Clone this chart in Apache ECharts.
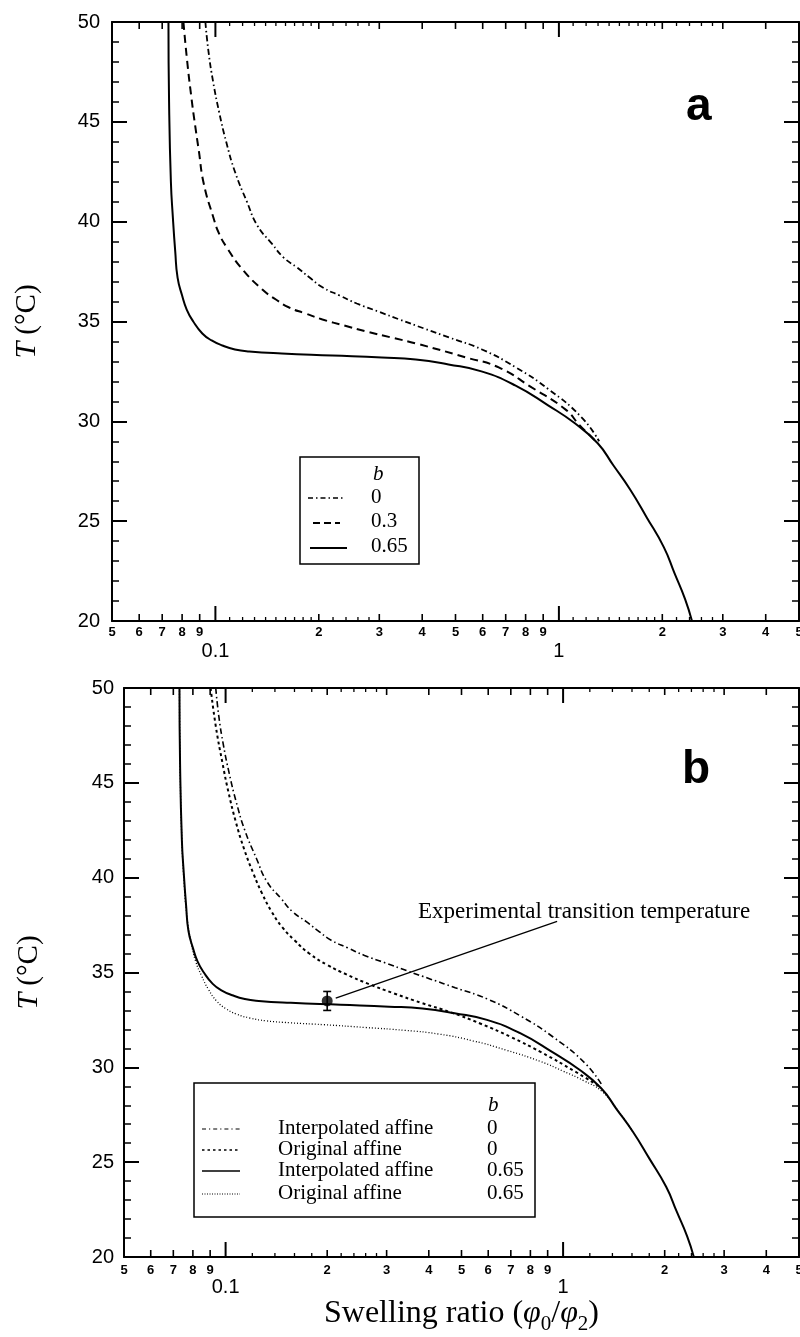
<!DOCTYPE html>
<html><head><meta charset="utf-8">
<script src="https://cdn.jsdelivr.net/npm/echarts@6.0.0/dist/echarts.min.js"></script>
<style>html,body{margin:0;padding:0;background:#fff}#c{width:800px;height:1337px}</style>
</head><body><div id="c"></div>
<script>
// ---------- data ----------
// Panel a
const aT_b0   = [50, 48.5, 47, 45.5, 44, 42.5, 41, 39.8, 38.9, 38.2, 37.7, 37.2, 36.7, 36.3, 35.9, 35.5, 35.1, 34.65, 34.2, 33.6, 32.7, 31.6, 30.2, 29.0];
const aX_b0   = [0.0935, 0.0955, 0.0985, 0.1025, 0.1075, 0.114, 0.1235, 0.1325, 0.146, 0.158, 0.173, 0.188, 0.2055, 0.230, 0.258, 0.298, 0.3435, 0.405, 0.479, 0.597, 0.749, 0.934, 1.164, 1.31];
const aT_b03  = [50, 48, 46.1, 45, 43.6, 41.9, 40.2, 39.4, 38.7, 37.6, 36.6, 36.1, 35.7, 35.4, 35.1, 34.8, 34.5, 34.2, 33.9, 33.2, 32.7, 31.7, 30.6, 29.8, 28.9];
const aX_b03  = [0.0807, 0.0828, 0.0853, 0.0870, 0.0894, 0.0925, 0.0987, 0.1025, 0.108, 0.120, 0.137, 0.150, 0.164, 0.183, 0.205, 0.237, 0.275, 0.325, 0.384, 0.536, 0.668, 0.833, 1.044, 1.15, 1.30];
const aT_b065 = [50, 46, 42, 40.2, 38.5, 37.2, 36.3, 35.6, 35.0, 34.4, 34.05, 33.8, 33.6, 33.5, 33.4, 33.3, 33.2, 33.1, 32.85, 32.5, 31.8, 30.8, 29.9, 28.9, 27.8, 26.6, 25.2, 23.7, 22.4, 21.1, 20];
const aX_b065 = [0.0730, 0.0733, 0.0742, 0.0752, 0.0764, 0.0776, 0.0800, 0.0825, 0.0862, 0.0916, 0.0975, 0.1047, 0.114, 0.1254, 0.156, 0.219, 0.305, 0.383, 0.477, 0.595, 0.746, 0.930, 1.113, 1.297, 1.44, 1.61, 1.80, 2.02, 2.17, 2.33, 2.44];
// Panel b
const bT_int0   = aT_b0.slice();
const bX_int0   = aX_b0.slice();
const bT_orig0  = [50, 48, 46, 44.5, 43, 41.5, 40.2, 39.2, 38.2, 37.4, 36.7, 36.0, 35.4, 34.9, 34.4, 33.9, 33.4, 32.9, 32.3, 31.6, 30.8, 29.8, 29.0];
const bX_orig0  = [0.0903, 0.0935, 0.098, 0.102, 0.107, 0.1135, 0.121, 0.128, 0.137, 0.147, 0.160, 0.177, 0.200, 0.228, 0.265, 0.315, 0.380, 0.465, 0.570, 0.700, 0.860, 1.080, 1.28];
const bT_int065 = aT_b065.slice();
const bX_int065 = aX_b065.slice();
const bT_orig065 = [50, 46, 42, 39.5, 37.8, 36.6, 35.6, 34.8, 34.1, 33.5, 33.1, 32.8, 32.6, 32.45, 32.35, 32.25, 32.1, 31.95, 31.75, 31.4, 30.9, 30.3, 29.8, 29.3, 28.75, 27.75, 26.6];
const bX_orig065 = [0.0730, 0.0733, 0.0742, 0.0755, 0.0770, 0.0790, 0.0815, 0.0850, 0.0890, 0.0940, 0.1000, 0.108, 0.118, 0.132, 0.155, 0.195, 0.260, 0.340, 0.430, 0.540, 0.680, 0.860, 1.00, 1.15, 1.30, 1.45, 1.61];
// experimental point
const expX = [0.2], expT = [33.5], expLow = [33.0], expHigh = [34.0];
// axis ticks
const yTickLabels = ['20', '25', '30', '35', '40', '45', '50'];
const xMajor = [0.1, 1];
const xMajorLabels = ['0.1', '1'];
const xLabeled = [0.05, 0.06, 0.07, 0.08, 0.09, 0.2, 0.3, 0.4, 0.5, 0.6, 0.7, 0.8, 0.9, 2, 3, 4, 5];
const xLabeledText = ['5', '6', '7', '8', '9', '2', '3', '4', '5', '6', '7', '8', '9', '2', '3', '4', '5'];
const xMinorA = [0.11, 0.12, 0.13, 0.14, 0.15, 0.16, 0.17, 0.18, 0.19, 0.22, 0.24, 0.26, 0.28, 1.1, 1.2, 1.3, 1.4, 1.5, 1.6, 1.7, 1.8, 1.9, 2.2, 2.4, 2.6, 2.8];
const xMinorB = [0.12, 0.14, 0.16, 0.18, 0.22, 0.24, 0.26, 0.28, 1.2, 1.4, 1.6, 1.8, 2.2, 2.4, 2.6, 2.8];

// ---------- build ----------
const zip = (xs, ts) => xs.map((x, i) => [x, ts[i]]);
const SERIF = 'Liberation Serif';
const SANS = 'Liberation Sans';

function tickList(minor) {
  const l = [];
  xMajor.forEach((v, i) => l.push({v, len: 15, w: 2, big: xMajorLabels[i]}));
  xLabeled.forEach((v, i) => l.push({v, len: 7, w: 1.6, small: xLabeledText[i]}));
  minor.forEach(v => l.push({v, len: 4, w: 1.3}));
  return l;
}
function tickSeries(g, ticks, dySmall, dyBig) {
  return {
    type: 'custom', xAxisIndex: g * 2, yAxisIndex: g * 2, silent: true, clip: false, z: 5,
    data: ticks.map(t => [t.v, 20]),
    renderItem(params, api) {
      const t = ticks[params.dataIndex];
      const pb = api.coord([t.v, 20]);
      const pt = api.coord([t.v, 50]);
      const ch = [
        {type: 'line', shape: {x1: pb[0], y1: pb[1], x2: pb[0], y2: pb[1] - t.len}, style: {stroke: '#000', lineWidth: t.w}},
        {type: 'line', shape: {x1: pt[0], y1: pt[1], x2: pt[0], y2: pt[1] + t.len}, style: {stroke: '#000', lineWidth: t.w}}
      ];
      if (t.small) ch.push({type: 'text', style: {text: t.small, x: pb[0], y: pb[1] + dySmall, align: 'center', verticalAlign: 'middle', fontSize: 13, fontWeight: 'bold', fontFamily: SANS, fill: '#000'}});
      if (t.big) ch.push({type: 'text', style: {text: t.big, x: pb[0], y: pb[1] + dyBig, align: 'center', verticalAlign: 'middle', fontSize: 20, fontFamily: SANS, fill: '#000'}});
      return {type: 'group', children: ch};
    }
  };
}

function xAx(g, pos) {
  return {type: 'log', logBase: 10, gridIndex: g, position: pos, min: 0.05, max: 5,
    axisLine: {show: true, onZero: false, lineStyle: {color: '#000', width: 2}},
    axisTick: {show: false}, axisLabel: {show: false}, splitLine: {show: false}, minorTick: {show: false}};
}
function yAx(g, pos, margin, withName) {
  const o = {type: 'value', gridIndex: g, position: pos, min: 20, max: 50, interval: 5,
    axisLine: {show: true, onZero: false, lineStyle: {color: '#000', width: 2}},
    axisTick: {show: true, inside: true, length: 15, lineStyle: {color: '#000', width: 2}},
    minorTick: {show: true, splitNumber: 5, length: 7, lineStyle: {color: '#000', width: 1.5}},
    axisLabel: {show: pos === 'left', color: '#000', fontSize: 20, fontFamily: SANS, margin: margin,
      formatter: v => yTickLabels[(v - 20) / 5]},
    splitLine: {show: false}, minorSplitLine: {show: false}};
  if (withName) {
    o.name = '{i|T} (°C)';
    o.nameLocation = 'middle';
    o.nameRotate = 90;
    o.nameGap = withName;
    o.nameTextStyle = {color: '#000', fontFamily: SERIF, fontSize: 29,
      rich: {i: {fontStyle: 'italic', fontFamily: SERIF, fontSize: 30, color: '#000'}}};
  }
  return o;
}

const lineS = (g, data, type, width) => ({type: 'line', xAxisIndex: g * 2, yAxisIndex: g * 2, data, showSymbol: false, symbol: 'none',
  smooth: 0.5, lineStyle: {color: '#000', width: width || 2, type}, z: 3, silent: true});

const chart = echarts.init(document.getElementById('c'), null, {renderer: 'canvas'});
const option = {
  backgroundColor: '#fff',
  animation: false,
  grid: [
    {left: 112, top: 22, width: 687, height: 599, outerBoundsMode: 'none'},
    {left: 124, top: 688, width: 675, height: 569, outerBoundsMode: 'none'}
  ],
  xAxis: [
    xAx(0, 'bottom'),
    xAx(0, 'top'),
    Object.assign(xAx(1, 'bottom'), {
      name: '{n|Swelling ratio (}{p|φ}{s|0}{n|/}{p|φ}{s|2}{n|)}',
      nameLocation: 'middle', nameGap: 36,
      nameTextStyle: {color: '#000', rich: {
        n: {fontFamily: SERIF, fontSize: 32, color: '#000', lineHeight: 42, verticalAlign: 'middle'},
        p: {fontFamily: SERIF, fontSize: 32, fontStyle: 'italic', color: '#000', lineHeight: 42, verticalAlign: 'middle'},
        s: {fontFamily: SERIF, fontSize: 21, color: '#000', lineHeight: 42, verticalAlign: 'bottom'}
      }}
    }),
    xAx(1, 'top')
  ],
  yAxis: [
    yAx(0, 'left', 12, 70), yAx(0, 'right', 8, 0),
    yAx(1, 'left', 10, 80), yAx(1, 'right', 8, 0)
  ],
  series: [
    lineS(0, zip(aX_b0, aT_b0), [6, 3, 1.5, 3], 1.8),
    lineS(0, zip(aX_b03, aT_b03), [8, 5], 2),
    lineS(0, zip(aX_b065, aT_b065), 'solid', 2),
    tickSeries(0, tickList(xMinorA), 11, 30),
    lineS(1, zip(bX_int0, bT_int0), [6, 3, 1.5, 3], 1.6),
    lineS(1, zip(bX_orig0, bT_orig0), [3, 3], 2),
    lineS(1, zip(bX_int065, bT_int065), 'solid', 2),
    lineS(1, zip(bX_orig065, bT_orig065), [1, 2], 1.3),
    tickSeries(1, tickList(xMinorB), 13, 30),
    {type: 'scatter', xAxisIndex: 2, yAxisIndex: 2, data: zip(expX, expT), symbol: 'circle', symbolSize: 11,
      itemStyle: {color: '#000'}, z: 6, silent: true,
      markLine: {silent: true, symbol: ['none', 'arrow'], symbolSize: [0, 9], label: {show: false},
        lineStyle: {color: '#000', width: 1.3, type: 'solid'},
        data: [[{coord: [0.96, 37.7]}, {coord: [0.212, 33.65]}]]}},
    {type: 'custom', xAxisIndex: 2, yAxisIndex: 2, silent: true, z: 6, clip: false,
      data: expX.map((x, i) => [x, expLow[i], expHigh[i]]),
      renderItem(params, api) {
        const lo = api.coord([api.value(0), api.value(1)]);
        const hi = api.coord([api.value(0), api.value(2)]);
        const st = {stroke: '#000', lineWidth: 1.6};
        return {type: 'group', children: [
          {type: 'line', shape: {x1: lo[0], y1: lo[1], x2: hi[0], y2: hi[1]}, style: st},
          {type: 'line', shape: {x1: lo[0] - 4, y1: lo[1], x2: lo[0] + 4, y2: lo[1]}, style: st},
          {type: 'line', shape: {x1: hi[0] - 4, y1: hi[1], x2: hi[0] + 4, y2: hi[1]}, style: st}
        ]};
      }}
  ],
  graphic: [
    {type: 'text', left: 686, top: 84, style: {text: 'a', fontSize: 46, fontWeight: 'bold', fontFamily: SANS, fill: '#000'}},
    {type: 'text', left: 682, top: 747, style: {text: 'b', fontSize: 46, fontWeight: 'bold', fontFamily: SANS, fill: '#000'}},
    // legend a
    {type: 'rect', shape: {x: 300, y: 457, width: 119, height: 107}, style: {fill: '#fff', stroke: '#000', lineWidth: 1.5}, z: 20},
    {type: 'text', x: 373, y: 474, style: {text: 'b', fontSize: 21, fontStyle: 'italic', fontFamily: SERIF, fill: '#000', verticalAlign: 'middle'}, z: 21},
    {type: 'text', x: 371, y: 497, style: {text: '0', fontSize: 21, fontFamily: SERIF, fill: '#000', verticalAlign: 'middle'}, z: 21},
    {type: 'text', x: 371, y: 521, style: {text: '0.3', fontSize: 21, fontFamily: SERIF, fill: '#000', verticalAlign: 'middle'}, z: 21},
    {type: 'text', x: 371, y: 546, style: {text: '0.65', fontSize: 21, fontFamily: SERIF, fill: '#000', verticalAlign: 'middle'}, z: 21},
    {type: 'line', shape: {x1: 308, y1: 498, x2: 343, y2: 498}, style: {stroke: '#000', lineWidth: 1.4, lineDash: [5, 3, 1.5, 3]}, z: 21},
    {type: 'line', shape: {x1: 313, y1: 523, x2: 340, y2: 523}, style: {stroke: '#000', lineWidth: 2, lineDash: [7, 4]}, z: 21},
    {type: 'line', shape: {x1: 310, y1: 548, x2: 347, y2: 548}, style: {stroke: '#000', lineWidth: 2}, z: 21},
    // legend b
    {type: 'rect', shape: {x: 194, y: 1083, width: 341, height: 134}, style: {fill: '#fff', stroke: '#000', lineWidth: 1.5}, z: 20},
    {type: 'text', x: 488, y: 1105, style: {text: 'b', fontSize: 21, fontStyle: 'italic', fontFamily: SERIF, fill: '#000', verticalAlign: 'middle'}, z: 21},
    {type: 'text', x: 278, y: 1128, style: {text: 'Interpolated affine', fontSize: 21, fontFamily: SERIF, fill: '#000', verticalAlign: 'middle'}, z: 21},
    {type: 'text', x: 278, y: 1149, style: {text: 'Original affine', fontSize: 21, fontFamily: SERIF, fill: '#000', verticalAlign: 'middle'}, z: 21},
    {type: 'text', x: 278, y: 1170, style: {text: 'Interpolated affine', fontSize: 21, fontFamily: SERIF, fill: '#000', verticalAlign: 'middle'}, z: 21},
    {type: 'text', x: 278, y: 1193, style: {text: 'Original affine', fontSize: 21, fontFamily: SERIF, fill: '#000', verticalAlign: 'middle'}, z: 21},
    {type: 'text', x: 487, y: 1128, style: {text: '0', fontSize: 21, fontFamily: SERIF, fill: '#000', verticalAlign: 'middle'}, z: 21},
    {type: 'text', x: 487, y: 1149, style: {text: '0', fontSize: 21, fontFamily: SERIF, fill: '#000', verticalAlign: 'middle'}, z: 21},
    {type: 'text', x: 487, y: 1170, style: {text: '0.65', fontSize: 21, fontFamily: SERIF, fill: '#000', verticalAlign: 'middle'}, z: 21},
    {type: 'text', x: 487, y: 1193, style: {text: '0.65', fontSize: 21, fontFamily: SERIF, fill: '#000', verticalAlign: 'middle'}, z: 21},
    {type: 'line', shape: {x1: 202, y1: 1129, x2: 240, y2: 1129}, style: {stroke: '#000', lineWidth: 1.2, lineDash: [4, 3, 1.2, 3]}, z: 21},
    {type: 'line', shape: {x1: 202, y1: 1150, x2: 240, y2: 1150}, style: {stroke: '#000', lineWidth: 1.6, lineDash: [2.5, 3]}, z: 21},
    {type: 'line', shape: {x1: 202, y1: 1171, x2: 240, y2: 1171}, style: {stroke: '#000', lineWidth: 1.6}, z: 21},
    {type: 'line', shape: {x1: 202, y1: 1194, x2: 240, y2: 1194}, style: {stroke: '#000', lineWidth: 1.1, lineDash: [1, 1.5]}, z: 21},
    // annotation
    {type: 'text', x: 418, y: 912, style: {text: 'Experimental transition temperature', fontSize: 23, fontFamily: SERIF, fill: '#000', verticalAlign: 'middle'}, z: 21}
  ]
};
chart.setOption(option);
</script>
</body></html>
